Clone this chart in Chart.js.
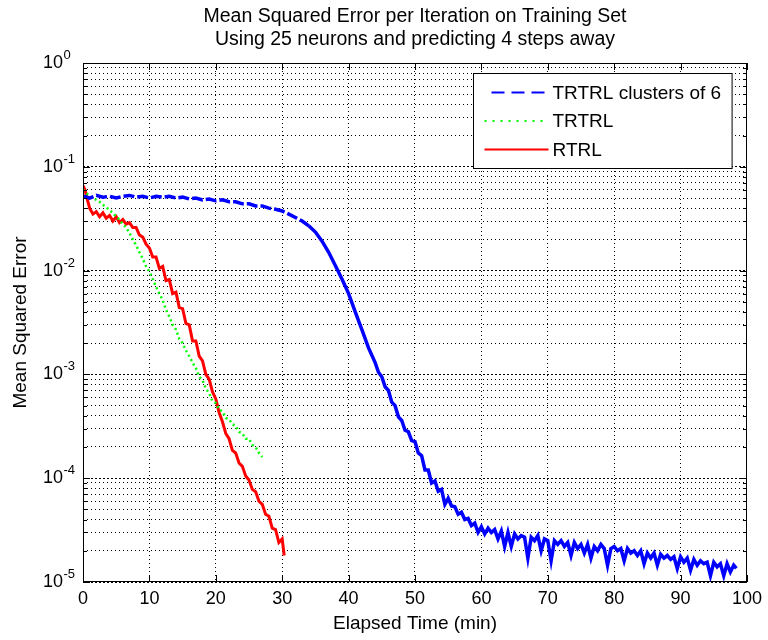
<!DOCTYPE html>
<html><head><meta charset="utf-8">
<script src="https://cdn.jsdelivr.net/npm/chart.js@4/dist/chart.umd.min.js"></script>
<style>html,body{margin:0;padding:0;background:#fff}canvas{display:block}</style>
</head><body>
<canvas id="c" width="768" height="640"></canvas>
<script>
// ---------- text ----------
const titleLines = ['Mean Squared Error per Iteration on Training Set', 'Using 25 neurons and predicting 4 steps away'];
const xAxisLabel = 'Elapsed Time (min)';
const yAxisLabel = 'Mean Squared Error';
const seriesNames = ['TRTRL clusters of 6', 'TRTRL', 'RTRL'];
const xTickStep = 10;
const yDecadeExponents = [0, -1, -2, -3, -4, -5];

// ---------- data ----------
const blueTime = [0,1,2,3,4,5,6,7,8,9,10,11,12,13,14,15,16,17,18,19,20,21,22,23,24,25,26,27,28,29,30,31,32,33,34,35,36,37,38,39,40,41,42,43,
 44,44.5,45,45.5,46,46.5,47,47.5,48,48.5,49,49.5,50,50.5,51,51.5,52,52.5,53,53.5,54,54.5,55,55.5,56,56.5,57,57.5,58,58.5,59,59.5,
 60,60.5,61,61.5,62,62.5,63,63.5,64,64.5,65,65.5,66,66.5,67,67.5,68,68.5,69,69.5,70,70.5,71,71.5,72,72.5,73,73.5,74,74.5,75,75.5,76,76.5,77,77.5,78,78.5,79,79.5,
 80,80.5,81,81.5,82,82.5,83,83.5,84,84.5,85,85.5,86,86.5,87,87.5,88,88.5,89,89.5,90,90.5,91,91.5,92,92.5,93,93.5,94,94.5,95,95.5,96,96.5,97,97.5,98,98.4];
const blueMSE = [5.2e-2,5.0e-2,5.3e-2,5.1e-2,5.2e-2,5.0e-2,5.2e-2,5.3e-2,5.1e-2,5.2e-2,5.0e-2,5.2e-2,5.1e-2,5.2e-2,5.0e-2,5.1e-2,4.9e-2,5.0e-2,4.8e-2,4.9e-2,
 4.7e-2,4.8e-2,4.6e-2,4.6e-2,4.4e-2,4.4e-2,4.2e-2,4.2e-2,4.0e-2,3.9e-2,3.75e-2,3.5e-2,3.25e-2,3.0e-2,2.7e-2,2.35e-2,1.92e-2,1.5e-2,1.12e-2,8.3e-3,6.0e-3,4.0e-3,2.7e-3,1.8e-3,
 1.3e-3,1.05e-3,9.5e-4,7.6e-4,7.0e-4,5.4e-4,5.0e-4,3.9e-4,3.6e-4,2.9e-4,2.8e-4,2.3e-4,2.25e-4,1.75e-4,1.65e-4,1.2e-4,1.2e-4,9.0e-5,9.4e-5,7.5e-5,7.8e-5,5.6e-5,6.4e-5,5.4e-5,5.3e-5,4.5e-5,4.7e-5,4.0e-5,4.1e-5,3.5e-5,3.7e-5,3.0e-5,
 3.4e-5,2.9e-5,3.3e-5,3.0e-5,3.2e-5,2.6e-5,3.1e-5,2.2e-5,3.0e-5,2.2e-5,2.9e-5,2.6e-5,2.8e-5,2.7e-5,1.7e-5,2.7e-5,2.5e-5,2.8e-5,2.0e-5,2.6e-5,2.5e-5,1.6e-5,2.5e-5,2.3e-5,2.5e-5,2.2e-5,2.4e-5,1.8e-5,2.4e-5,2.1e-5,2.3e-5,1.9e-5,2.3e-5,1.7e-5,2.2e-5,2.0e-5,2.3e-5,2.1e-5,1.45e-5,2.1e-5,
 2.2e-5,2.0e-5,2.1e-5,1.6e-5,2.1e-5,1.9e-5,2.0e-5,1.8e-5,2.0e-5,1.5e-5,1.9e-5,1.7e-5,1.9e-5,1.45e-5,1.85e-5,1.7e-5,1.8e-5,1.65e-5,1.75e-5,1.35e-5,1.75e-5,1.55e-5,1.7e-5,1.3e-5,1.65e-5,1.45e-5,1.6e-5,1.5e-5,1.55e-5,1.15e-5,1.55e-5,1.4e-5,1.5e-5,1.15e-5,1.5e-5,1.25e-5,1.45e-5,1.35e-5];

const greenTime = [0,0.5,1,1.5,2,2.5,3,3.5,4,4.5,5,5.5,6,6.5,7,7.5,8,8.5,9,9.5,10,10.5,11,11.5,12,12.5,13,13.5,14,14.5,15,15.5,16,16.5,17,17.5,18,18.5,19,19.5,20,20.5,21,21.5,22,22.5,23,23.5,24,24.5,25,25.5,26,26.5,27];
const greenMSE = [6.0e-2,5.6e-2,5.2e-2,5.0e-2,4.8e-2,4.6e-2,4.3e-2,4.1e-2,3.8e-2,3.6e-2,3.3e-2,3.1e-2,2.8e-2,2.6e-2,2.3e-2,2.0e-2,1.75e-2,1.5e-2,1.3e-2,1.1e-2,
 9.8e-3,8.3e-3,7.0e-3,6.0e-3,5.2e-3,4.2e-3,3.6e-3,3.0e-3,2.7e-3,2.2e-3,2.0e-3,1.7e-3,1.5e-3,1.3e-3,1.15e-3,9.5e-4,8.8e-4,7.3e-4,6.6e-4,5.5e-4,
 5.3e-4,4.6e-4,4.4e-4,3.8e-4,3.7e-4,3.3e-4,3.2e-4,2.8e-4,2.7e-4,2.4e-4,2.4e-4,2.1e-4,2.0e-4,1.75e-4,1.6e-4];

const redTime = [0,0.3,0.6,1,1.5,2,2.5,3,3.5,4,4.5,5,5.5,6,6.5,7,7.5,8,8.5,9,9.5,10,10.5,11,11.5,12,12.5,13,13.5,14,14.5,15,15.5,16,16.5,17,17.5,18,18.5,19,19.5,20,20.5,21,21.5,22,22.5,23,23.5,24,24.5,25,25.5,26,26.5,27,27.5,28,28.5,29,29.5,30,30.3];
const redMSE = [6.6e-2,6.0e-2,5.0e-2,4.0e-2,3.5e-2,3.7e-2,3.3e-2,3.6e-2,3.2e-2,3.4e-2,3.0e-2,3.3e-2,2.9e-2,3.1e-2,2.8e-2,2.9e-2,2.6e-2,2.6e-2,2.2e-2,2.1e-2,1.8e-2,
 1.65e-2,1.35e-2,1.35e-2,1.05e-2,1.1e-2,8.0e-3,8.2e-3,6.0e-3,6.2e-3,4.4e-3,4.3e-3,3.1e-3,3.0e-3,2.1e-3,2.1e-3,1.5e-3,1.35e-3,1.0e-3,9.0e-4,6.8e-4,
 5.8e-4,4.3e-4,3.5e-4,2.7e-4,2.4e-4,1.85e-4,1.75e-4,1.4e-4,1.3e-4,1.05e-4,9.6e-5,7.8e-5,7.4e-5,6.0e-5,5.6e-5,4.5e-5,4.3e-5,3.3e-5,3.2e-5,2.4e-5,2.6e-5,1.8e-5];

// ---------- helpers ----------
const pts = (xs, ys) => xs.map((t, i) => ({x: t, y: ys[i]}));
const isDecade = v => Math.abs(Math.log10(v) - Math.round(Math.log10(v))) < 1e-9;
const FONT = '"Liberation Sans", Arial, sans-serif';

const matlabDecor = {
  id: 'matlabDecor',
  afterDatasetsDraw(chart) {
    const {ctx, chartArea: a, scales: {x, y}} = chart;
    ctx.save();
    ctx.strokeStyle = '#000';
    ctx.lineWidth = 1;
    ctx.setLineDash([]);
    const line = (x1, y1, x2, y2) => { ctx.beginPath(); ctx.moveTo(x1, y1); ctx.lineTo(x2, y2); ctx.stroke(); };
    x.ticks.forEach(t => {
      const px = Math.round(x.getPixelForValue(t.value)) + 0.5;
      line(px, a.bottom, px, a.bottom - 7);
      line(px, a.top, px, a.top + 7);
    });
    y.ticks.forEach(t => {
      const py = Math.round(y.getPixelForValue(t.value)) + 0.5;
      const len = isDecade(t.value) ? 7 : 4;
      line(a.left, py, a.left + len, py);
      line(a.right, py, a.right - len, py);
    });
    ctx.strokeRect(Math.round(a.left) + 0.5, Math.round(a.top) + 0.5, Math.round(a.right - a.left) - 1, Math.round(a.bottom - a.top) - 1);
    ctx.restore();

    // legend (inside, top-right)
    ctx.save();
    ctx.font = '19px ' + FONT;
    const ds = chart.data.datasets;
    const textW = Math.max(...ds.map(d => ctx.measureText(d.label).width));
    const boxW = 11 + 64 + 4 + textW + 11;
    const boxH = 95;
    const bx = Math.round(a.right - 15 - boxW) + 0.5;
    const by = Math.round(a.top + 10) + 0.5;
    ctx.fillStyle = '#fff';
    ctx.fillRect(bx, by, boxW, boxH);
    ctx.strokeStyle = '#000';
    ctx.lineWidth = 1;
    ctx.strokeRect(bx, by, boxW, boxH);
    const legendDash = [[13, 7], [2, 6], []];
    ds.forEach((d, i) => {
      const ry = by + 19 + i * 28.5;
      ctx.strokeStyle = d.borderColor;
      ctx.lineWidth = 2;
      ctx.setLineDash(legendDash[i]);
      ctx.lineDashOffset = i === 0 ? -7 : 0;
      ctx.beginPath(); ctx.moveTo(bx + 11, ry); ctx.lineTo(bx + 75, ry); ctx.stroke();
      ctx.setLineDash([]);
      ctx.fillStyle = '#000';
      ctx.textBaseline = 'middle';
      ctx.textAlign = 'left';
      ctx.fillText(d.label, bx + 79, ry + 1);
    });
    ctx.restore();
  },
  afterDraw(chart) {
    const {ctx, chartArea: a, scales: {y}} = chart;
    ctx.save();
    ctx.fillStyle = '#000';
    ctx.font = '19.5px ' + FONT;
    ctx.textAlign = 'center';
    ctx.textBaseline = 'alphabetic';
    const cx = (a.left + a.right) / 2;
    ctx.fillText(titleLines[0], cx, 21.5);
    ctx.fillText(titleLines[1], cx, 45);
    yDecadeExponents.forEach(e => {
      const py = y.getPixelForValue(Math.pow(10, e));
      ctx.font = '18px ' + FONT;
      ctx.textAlign = 'right';
      ctx.textBaseline = 'middle';
      ctx.fillText('10', 63, py);
      ctx.font = '13px ' + FONT;
      ctx.textAlign = 'left';
      ctx.textBaseline = 'alphabetic';
      ctx.fillText(String(e), 63.5, py - 4);
    });
    ctx.restore();
  }
};

new Chart(document.getElementById('c'), {
  type: 'line',
  data: {
    datasets: [
      {label: seriesNames[0], data: pts(blueTime, blueMSE), borderColor: '#0000ff', borderWidth: 3.5, pointRadius: 0, tension: 0,
       segment: {borderDash: c => c.p0.parsed.x < 34 ? [11, 3] : undefined}},
      {label: seriesNames[1], data: pts(greenTime, greenMSE), borderColor: '#00ff00', borderWidth: 2.5, borderDash: [2, 3], pointRadius: 0, tension: 0},
      {label: seriesNames[2], data: pts(redTime, redMSE), borderColor: '#ff0000', borderWidth: 3, pointRadius: 0, tension: 0}
    ]
  },
  options: {
    responsive: false,
    animation: false,
    layout: {padding: {top: 63, right: 16, left: 0, bottom: 0}},
    plugins: {legend: {display: false}, title: {display: false}, tooltip: {enabled: false}},
    scales: {
      x: {
        type: 'linear', min: 0, max: 100,
        ticks: {stepSize: xTickStep, color: '#000', font: {family: FONT, size: 18}, padding: 6, maxRotation: 0},
        grid: {color: '#000', lineWidth: 1, drawTicks: false},
        border: {display: false, dash: [1, 3]},
        title: {display: true, text: xAxisLabel, color: '#000', font: {family: FONT, size: 19}, padding: {top: 0, bottom: 5}},
        afterFit: s => { s.height = 58; }
      },
      y: {
        type: 'logarithmic', min: 1e-5, max: 1,
        afterBuildTicks: s => {
          const t = [];
          yDecadeExponents.slice().reverse().forEach(e => {
            if (e === 0) { t.push({value: 1}); return; }
            for (let k = 1; k <= 9; k++) t.push({value: k * Math.pow(10, e)});
          });
          s.ticks = t;
        },
        ticks: {display: false, autoSkip: false},
        grid: {color: '#000', lineWidth: 1, drawTicks: false},
        border: {display: false, dash: ctx => (ctx.tick && isDecade(ctx.tick.value)) ? [2, 2] : [1, 3]},
        title: {display: true, text: yAxisLabel, color: '#000', font: {family: FONT, size: 19}, padding: {top: 9, bottom: 0}},
        afterFit: s => { s.width = 83; }
      }
    }
  },
  plugins: [matlabDecor]
});
</script>
</body></html>
